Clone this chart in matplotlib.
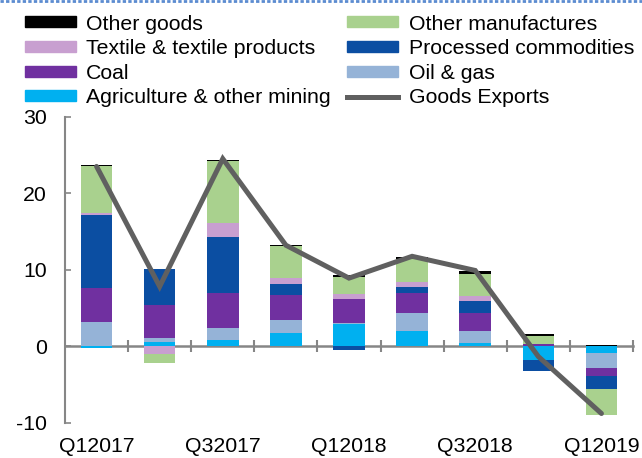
import numpy as np
import matplotlib
matplotlib.use("Agg")
import matplotlib.pyplot as plt
from matplotlib.patches import Patch
from matplotlib.lines import Line2D

plt.rcParams['font.family'] = ['Liberation Sans', 'DejaVu Sans']
plt.rcParams['axes.unicode_minus'] = False

quarters = ["Q12017", "Q22017", "Q32017", "Q42017", "Q12018",
            "Q22018", "Q32018", "Q42018", "Q12019"]
tick_labels = ["Q12017", "", "Q32017", "", "Q12018", "", "Q32018", "", "Q12019"]

agri = [-0.2, 0.5, 0.8, 1.75, 2.9, 2.0, 0.45, -1.75, -0.9]
oil_gas = [3.1, 0.55, 1.6, 1.7, 0.15, 2.3, 1.55, 0.0, -2.0]
coal = [4.5, 4.35, 4.6, 3.2, 3.15, 2.6, 2.3, 0.35, -1.0]
processed = [9.5, 4.7, 7.3, 1.5, -0.5, 0.9, 1.65, -1.45, -1.75]
textile = [0.35, -1.0, 1.85, 0.75, 0.6, 0.6, 0.55, 0.0, 0.0]
other_manuf = [6.05, -1.2, 8.05, 4.2, 2.3, 3.05, 2.95, 1.0, -3.4]
other_goods = [0.2, 0.0, 0.1, 0.1, 0.15, 0.2, 0.4, 0.3, 0.2]
goods_exports = [23.5, 7.8, 24.5, 13.2, 8.9, 11.75, 9.9, -1.35, -8.8]

series = [
    ("Agriculture & other mining", agri, "#00b0f0"),
    ("Oil & gas", oil_gas, "#95b3d7"),
    ("Coal", coal, "#7030a0"),
    ("Processed commodities", processed, "#0b4ea2"),
    ("Textile & textile products", textile, "#c89fd0"),
    ("Other manufactures", other_manuf, "#a9d18e"),
    ("Other goods", other_goods, "#000000"),
]

W, H = 642, 458
fig = plt.figure(figsize=(W / 100, H / 100), dpi=100)
ax = fig.add_axes([65 / W, (H - 422.7) / H, (633 - 65) / W, (422.7 - 116.7) / H])

x = np.arange(len(quarters))
pos_bottom = np.zeros(len(x))
neg_bottom = np.zeros(len(x))
for name, vals, col in series:
    v = np.array(vals, dtype=float)
    bottoms = np.where(v >= 0, pos_bottom, neg_bottom)
    ax.bar(x, v, width=0.5, bottom=bottoms, color=col, edgecolor='none', zorder=2)
    pos_bottom += np.where(v >= 0, v, 0)
    neg_bottom += np.where(v < 0, v, 0)

ax.plot(x, goods_exports, color="#606060", linewidth=3.6, zorder=4,
        solid_joinstyle='miter', solid_capstyle='round')

ax.set_xlim(-0.5, len(x) - 0.5)
ax.set_ylim(-10, 30)
ax.set_yticks([-10, 0, 10, 20, 30])

fs = 15.3
gray = "#868686"
for s in ["top", "right", "bottom"]:
    ax.spines[s].set_visible(False)
ax.spines["left"].set_color(gray)
ax.spines["left"].set_linewidth(1.5)
ax.tick_params(axis='y', direction='in', length=4.5, width=1.2, color=gray,
               labelsize=fs, pad=13)
ax.set_xticks(x)
ax.set_xticklabels(tick_labels)
ax.tick_params(axis='x', length=0, labelsize=fs, pad=10)

sec = ax.secondary_xaxis(0, transform=ax.transData)
sec.spines["bottom"].set_color(gray)
sec.spines["bottom"].set_linewidth(1.8)
sec.set_xticks(np.arange(0.5, len(x), 1.0))
sec.tick_params(axis='x', direction='inout', length=9, width=1.5, color=gray,
                labelbottom=False)

handles = [
    Patch(color="#000000"),
    Patch(color="#c89fd0"),
    Patch(color="#7030a0"),
    Patch(color="#00b0f0"),
    Patch(color="#a9d18e"),
    Patch(color="#0b4ea2"),
    Patch(color="#95b3d7"),
    Line2D([0], [0], color="#606060", linewidth=3.6),
]
labels = ["Other goods", "Textile & textile products", "Coal",
          "Agriculture & other mining", "Other manufactures",
          "Processed commodities", "Oil & gas", "Goods Exports"]
fig.legend(handles, labels, loc='upper left', bbox_to_anchor=(25 / W, (H - 14.5) / H),
           ncol=2, frameon=False, fontsize=fs, borderpad=0, borderaxespad=0,
           handlelength=2.38, handleheight=0.42, handletextpad=0.5,
           labelspacing=0.265, columnspacing=0.78)

fig.add_artist(Line2D([0, 1], [1 - 1 / H, 1 - 1 / H], transform=fig.transFigure,
                      color="#5b8bd0", linewidth=2, linestyle=(0, (1.2, 0.8))))

fig.savefig("out.png", dpi=100)
